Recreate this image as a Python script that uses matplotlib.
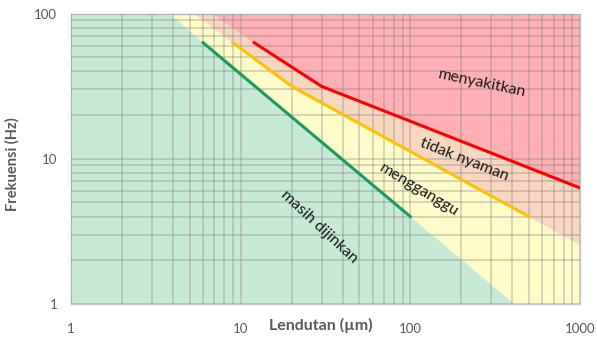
import numpy as np
import matplotlib
matplotlib.use('Agg')
import matplotlib.pyplot as plt

plt.rcParams['font.family'] = ['Lato', 'DejaVu Sans']

# limit lines (deflection um, frequency Hz)
green_x = [6, 100]
green_y = [63, 4]
orange_x = [9, 20, 500]
orange_y = [63, 31.5, 4]
red_x = [12, 30, 1000]
red_y = [63, 31.5, 6.3]

# zone edges = the lines extended to the frame
green_edge_x = [3.8, 6, 100, 410, 1000]
green_edge_y = [100, 63, 4, 1, 1]
orange_edge_x = [5.3, 9, 20, 500, 1000]
orange_edge_y = [100, 63, 31.5, 4, 2.55]
red_edge_x = [6.8, 12, 30, 1000]
red_edge_y = [100, 63, 31.5, 6.3]

zone_names = ['menyakitkan', 'tidak nyaman', 'mengganggu', 'masih dijinkan']
zone_pos_x = [265, 208, 113, 29]
zone_pos_y = [33.2, 9.8, 6.1, 3.4]
zone_rot = [-12, -21.5, -31, -43]

x_ticks = [1, 10, 100, 1000]
y_ticks = [1, 10, 100]

fig = plt.figure(figsize=(5.97, 3.38), dpi=100)
ax = fig.add_axes([0.119, 0.1006, 0.8525, 0.8594])
ax.set_xscale('log')
ax.set_yscale('log')
ax.set_xlim(1, 1000)
ax.set_ylim(1, 100)

ax.set_facecolor('#c6ead5')
ax.fill_between(green_edge_x, green_edge_y, 100, color='#fefcc8', lw=0, zorder=1)
ax.fill_between(orange_edge_x, orange_edge_y, 100, color='#f8d6c0', lw=0, zorder=1)
ax.fill_between(red_edge_x, red_edge_y, 100, color='#feb0b4', lw=0, zorder=1)

ax.grid(True, which='both', color='#808080', alpha=0.4, lw=1.1, zorder=2)
ax.set_axisbelow(False)

ax.plot(green_x, green_y, color='#1a9c5c', lw=2.2, zorder=3)
ax.plot(orange_x, orange_y, color='#ffc000', lw=2.2, zorder=3)
ax.plot(red_x, red_y, color='#ff0000', lw=2.2, zorder=3)

for name, px, py, r in zip(zone_names, zone_pos_x, zone_pos_y, zone_rot):
    ax.text(px, py, name, rotation=r, ha='center', va='center',
            fontsize=11.5, color='#1a1a1a', zorder=4, rotation_mode='anchor')

ax.set_xticks(x_ticks)
ax.set_xticklabels([str(v) for v in x_ticks])
ax.set_yticks(y_ticks)
ax.set_yticklabels([str(v) for v in y_ticks])
ax.minorticks_on()
ax.tick_params(which='both', length=0, colors='#595959', labelsize=9.5)
ax.tick_params(axis='x', pad=14)
ax.tick_params(axis='y', pad=10)
ax.xaxis.set_minor_formatter(matplotlib.ticker.NullFormatter())
ax.yaxis.set_minor_formatter(matplotlib.ticker.NullFormatter())

for s in ax.spines.values():
    s.set_color('#c8c8c8')
    s.set_linewidth(1)

ax.set_xlabel('Lendutan (\u00b5m)', fontsize=11.5, fontweight='bold', color='#595959',
              va='center')
ax.xaxis.set_label_coords(0.49, -0.074)
ax.set_ylabel('Frekuensi (Hz)', fontsize=10.5, fontweight='bold', color='#595959')
ax.yaxis.set_label_coords(-0.102, 0.48)

fig.savefig('out.png', dpi=100)
